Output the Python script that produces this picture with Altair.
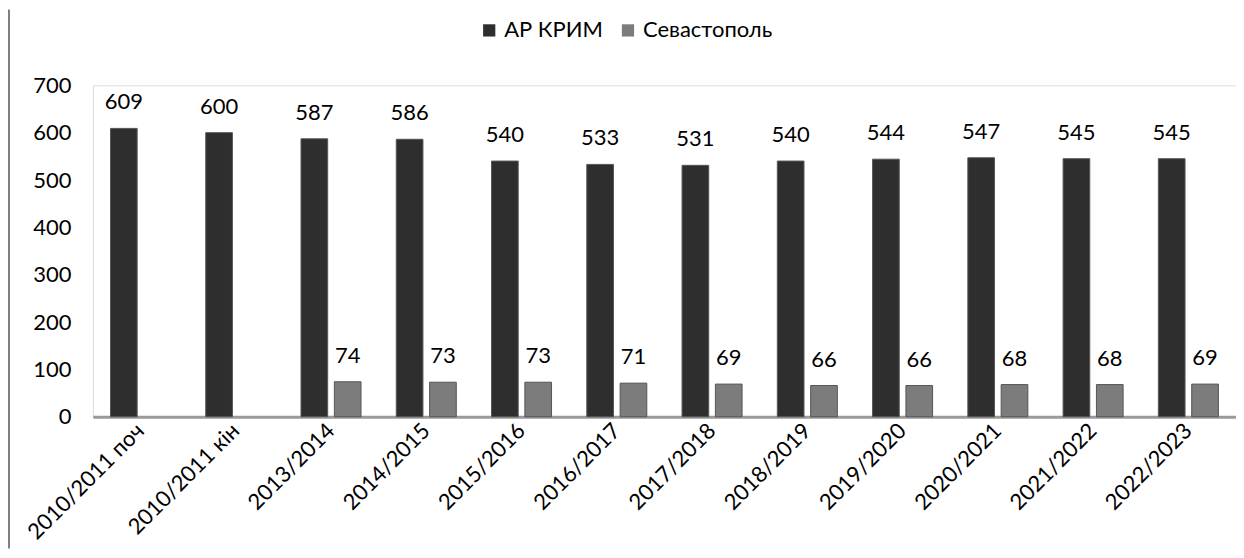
import altair as alt
import pandas as pd

categories = ["2010/2011 поч", "2010/2011 кін", "2013/2014", "2014/2015", "2015/2016",
              "2016/2017", "2017/2018", "2018/2019", "2019/2020", "2020/2021",
              "2021/2022", "2022/2023"]
crimea = [609, 600, 587, 586, 540, 533, 531, 540, 544, 547, 545, 545]
sevastopol = [None, None, 74, 73, 73, 71, 69, 66, 66, 68, 68, 69]
series = ["АР КРИМ", "Севастополь"]

rows = []
for c, a, b in zip(categories, crimea, sevastopol):
    rows.append({"cat": c, "series": series[0], "value": a})
    rows.append({"cat": c, "series": series[1], "value": b})
df = pd.DataFrame(rows)

FONT = "Lato"
FS = 22
W, H = 1145, 332

x = alt.X("cat:N", sort=categories, title=None,
          scale=alt.Scale(paddingInner=0.37, paddingOuter=0.185),
          axis=alt.Axis(labelAngle=-45, labelAlign="right", labelBaseline="middle",
                        labelFontSize=FS, labelFont=FONT, labelColor="#000",
                        labelPadding=10, ticks=False, domainColor="#9a9a9a",
                        domainWidth=3, grid=False, labelLimit=300))
xoff = alt.XOffset("series:N", sort=series, scale=alt.Scale(domain=series, paddingInner=0.2, paddingOuter=0))
y = alt.Y("value:Q", title=None,
          scale=alt.Scale(domain=[0, 700], nice=False),
          axis=alt.Axis(values=[0, 100, 200, 300, 400, 500, 600, 700], grid=False,
                        domain=False, ticks=False, labelFontSize=FS, labelFont=FONT,
                        labelColor="#000", labelPadding=22))
color = alt.Color("series:N", sort=series,
                  scale=alt.Scale(domain=series, range=["#2e2e2e", "#7c7c7c"]),
                  legend=alt.Legend(title=None, orient="none", direction="horizontal",
                                    legendX=386, legendY=-66, symbolType="square",
                                    symbolSize=150, symbolStrokeWidth=0,
                                    labelFontSize=FS, labelFont=FONT, labelColor="#000",
                                    columnPadding=14, symbolOffset=0, labelOffset=4))

base = alt.Chart(df).transform_filter("datum.value != null")

bars = base.mark_bar(stroke="#555", strokeWidth=1).encode(x=x, xOffset=xoff, y=y, color=color)
labels = base.mark_text(dy=-26, fontSize=FS, font=FONT, color="#000").encode(
    x=x, xOffset=xoff, y=y, text=alt.Text("value:Q"))

frame = alt.Chart(pd.DataFrame({"v": [0]})).mark_rule(color="#555", strokeWidth=1.5).encode(
    x=alt.value(-84), y=alt.value(-76), y2=alt.value(464))

chart = alt.layer(bars, labels, frame).properties(
    width=W, height=H, padding=0
).configure_view(stroke=None).configure(font=FONT)

chart.save("out.html", embed_options={"renderer": "svg", "actions": False})
